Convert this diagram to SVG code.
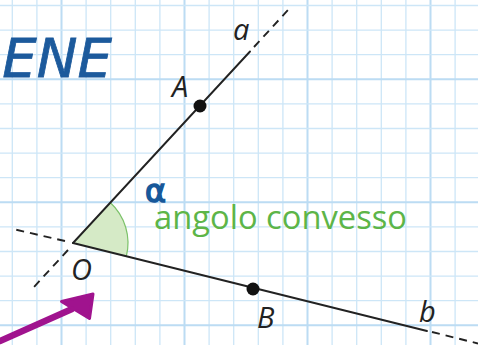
<svg xmlns="http://www.w3.org/2000/svg" width="478" height="345" viewBox="0 0 478 345">
<defs>
<style>
.g{stroke:#cde6f7;stroke-width:1.3}
.G{stroke:#bcdcf3;stroke-width:2}
.ray{stroke:#222;stroke-width:1.9;fill:none;stroke-linecap:round}
.dash{stroke:#222;stroke-width:1.9;fill:none;stroke-dasharray:8 6}
.lbl{font-family:"Open Sans","Liberation Sans",sans-serif;font-style:italic;font-size:29px;fill:#222}
.dot{fill:#111}
</style>
</defs>
<rect width="478" height="345" fill="#fff"/>
<g id="grid">
<path class="g" d="M12.3 0V345M36.9 0V345M86.1 0V345M110.7 0V345M135.3 0V345M159.9 0V345M209.1 0V345M233.7 0V345M258.3 0V345M282.9 0V345M332.1 0V345M356.7 0V345M381.3 0V345M405.9 0V345M455.1 0V345"/>
<path class="G" d="M61.5 0V345M184.5 0V345M307.5 0V345M430.5 0V345"/>
<path class="g" d="M0 5.5H478M0 30.1H478M0 54.7H478M0 103.9H478M0 128.5H478M0 153.1H478M0 177.7H478M0 226.9H478M0 251.5H478M0 276.1H478M0 300.7H478"/>
<path class="G" d="M0 79.3H478M0 202.3H478M0 325.3H478"/>
</g>
<g id="title">
<text x="-28" y="77" font-family="DejaVu Sans,sans-serif" font-style="italic" font-size="54" fill="#1c5a9c" stroke="#1c5a9c" stroke-width="0.8" textLength="140" lengthAdjust="spacingAndGlyphs">LENE</text>
</g>
<g id="angle">
<path d="M73 243L110.2 202.5A55 55 0 0 1 126.3 256.5Z" fill="#d5eac6"/>
<path d="M110.2 202.5A55 55 0 0 1 126.3 256.5" fill="none" stroke="#7cc26a" stroke-width="1.2"/>
</g>
<g id="connectors">
<path class="ray" d="M73 243L250 51.5"/>
<path class="dash" d="M254 47L288 10"/>
<path class="ray" d="M73 243L427 331"/>
<path class="dash" d="M432 332L478 343.5"/>
<path class="dash" d="M65 241L13 229"/>
<path class="dash" d="M68 250L33 288"/>
</g>
<g id="O"><text class="lbl" x="71" y="280">O</text></g>
<g id="A"><circle class="dot" cx="200" cy="106" r="6.5"/><text class="lbl" x="172" y="97">A</text></g>
<g id="a"><text class="lbl" x="233" y="40">a</text></g>
<g id="B"><circle class="dot" cx="253" cy="289" r="6.5"/><text class="lbl" x="257" y="328">B</text></g>
<g id="b"><text class="lbl" x="419" y="322">b</text></g>
<g id="alpha"><text x="145" y="202" font-family="DejaVu Sans,sans-serif" font-size="32" fill="#17589a" stroke="#17589a" stroke-width="1.5">α</text></g>
<g id="label"><text x="154" y="229" font-family="Open Sans,Liberation Sans,sans-serif" font-size="32" fill="#5db548" textLength="253" lengthAdjust="spacingAndGlyphs">angolo convesso</text></g>
<g id="arrow">
<path d="M0 341L72 309" stroke="#a0138e" stroke-width="6.5" stroke-linecap="round"/>
<path d="M93 294L61.5 301.5L89.5 318.5Z" fill="#a0138e" stroke="#a0138e" stroke-width="3" stroke-linejoin="round"/>
</g>
</svg>
